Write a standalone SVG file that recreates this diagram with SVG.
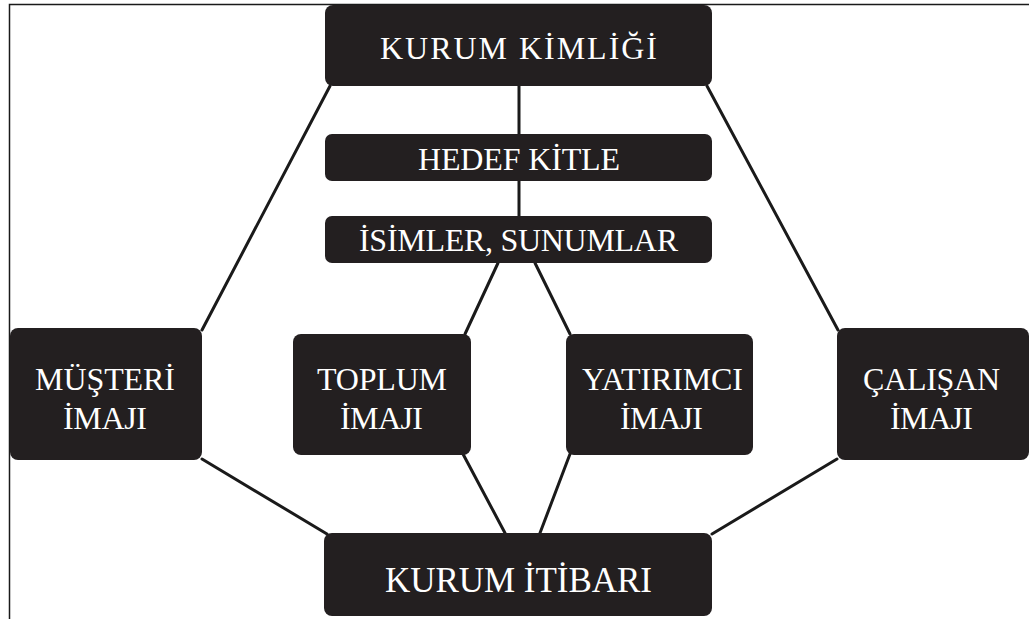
<svg xmlns="http://www.w3.org/2000/svg" width="1029" height="619" viewBox="0 0 1029 619">
<style>
.box{fill:#231f20;}
.t{fill:#ffffff;font-family:"Liberation Serif","Times New Roman",serif;font-size:32px;text-anchor:middle;}
.tb{font-size:35px;}
.c{stroke:#1a1a1a;stroke-width:3;fill:none;stroke-linecap:round;}
.frame{stroke:#1a1a1a;stroke-width:1.5;fill:none;}
</style>
<rect width="1029" height="619" fill="#ffffff"/>
<path class="frame" d="M9.5,619 V4.5 H1029"/>
<g id="connectors">
<line class="c" x1="519" y1="86" x2="519" y2="216"/>
<line class="c" x1="330" y1="86" x2="202" y2="330"/>
<line class="c" x1="707" y1="86" x2="838" y2="330"/>
<line class="c" x1="498" y1="263" x2="465" y2="334"/>
<line class="c" x1="535" y1="263" x2="570" y2="334"/>
<line class="c" x1="463" y1="454" x2="505" y2="533"/>
<line class="c" x1="570" y1="454" x2="540" y2="533"/>
<line class="c" x1="202" y1="459" x2="327" y2="534"/>
<line class="c" x1="837" y1="459" x2="712" y2="534"/>
</g>
<g id="kurum-kimligi">
<rect class="box" x="325" y="5" width="387" height="81" rx="8"/>
<text class="t" x="518.5" y="59" textLength="277" lengthAdjust="spacing">KURUM KİMLİĞİ</text>
</g>
<g id="hedef-kitle">
<rect class="box" x="325" y="134" width="387" height="47" rx="7"/>
<text class="t" x="519" y="170" textLength="202" lengthAdjust="spacing">HEDEF KİTLE</text>
</g>
<g id="isimler-sunumlar">
<rect class="box" x="325" y="216" width="387" height="47" rx="7"/>
<text class="t" x="518.5" y="251" textLength="319" lengthAdjust="spacing">İSİMLER, SUNUMLAR</text>
</g>
<g id="musteri-imaji">
<rect class="box" x="10" y="328" width="192" height="132" rx="8"/>
<text class="t" x="105" y="390" textLength="140" lengthAdjust="spacing">MÜŞTERİ</text>
<text class="t" x="105" y="429" textLength="84" lengthAdjust="spacing">İMAJI</text>
</g>
<g id="toplum-imaji">
<rect class="box" x="293" y="334" width="178" height="121" rx="8"/>
<text class="t" x="382" y="390" textLength="130" lengthAdjust="spacing">TOPLUM</text>
<text class="t" x="381.5" y="429" textLength="83" lengthAdjust="spacing">İMAJI</text>
</g>
<g id="yatirimci-imaji">
<rect class="box" x="566" y="334" width="187" height="121" rx="8"/>
<text class="t" x="662.5" y="390" textLength="161" lengthAdjust="spacing">YATIRIMCI</text>
<text class="t" x="661.5" y="429" textLength="83" lengthAdjust="spacing">İMAJI</text>
</g>
<g id="calisan-imaji">
<rect class="box" x="837" y="328" width="192" height="132" rx="8"/>
<text class="t" x="931.5" y="390" textLength="137" lengthAdjust="spacing">ÇALIŞAN</text>
<text class="t" x="931.5" y="429" textLength="83" lengthAdjust="spacing">İMAJI</text>
</g>
<g id="kurum-itibari">
<rect class="box" x="324" y="533" width="388" height="83" rx="8"/>
<text class="t tb" x="518.5" y="592" textLength="267" lengthAdjust="spacing">KURUM İTİBARI</text>
</g>
</svg>
